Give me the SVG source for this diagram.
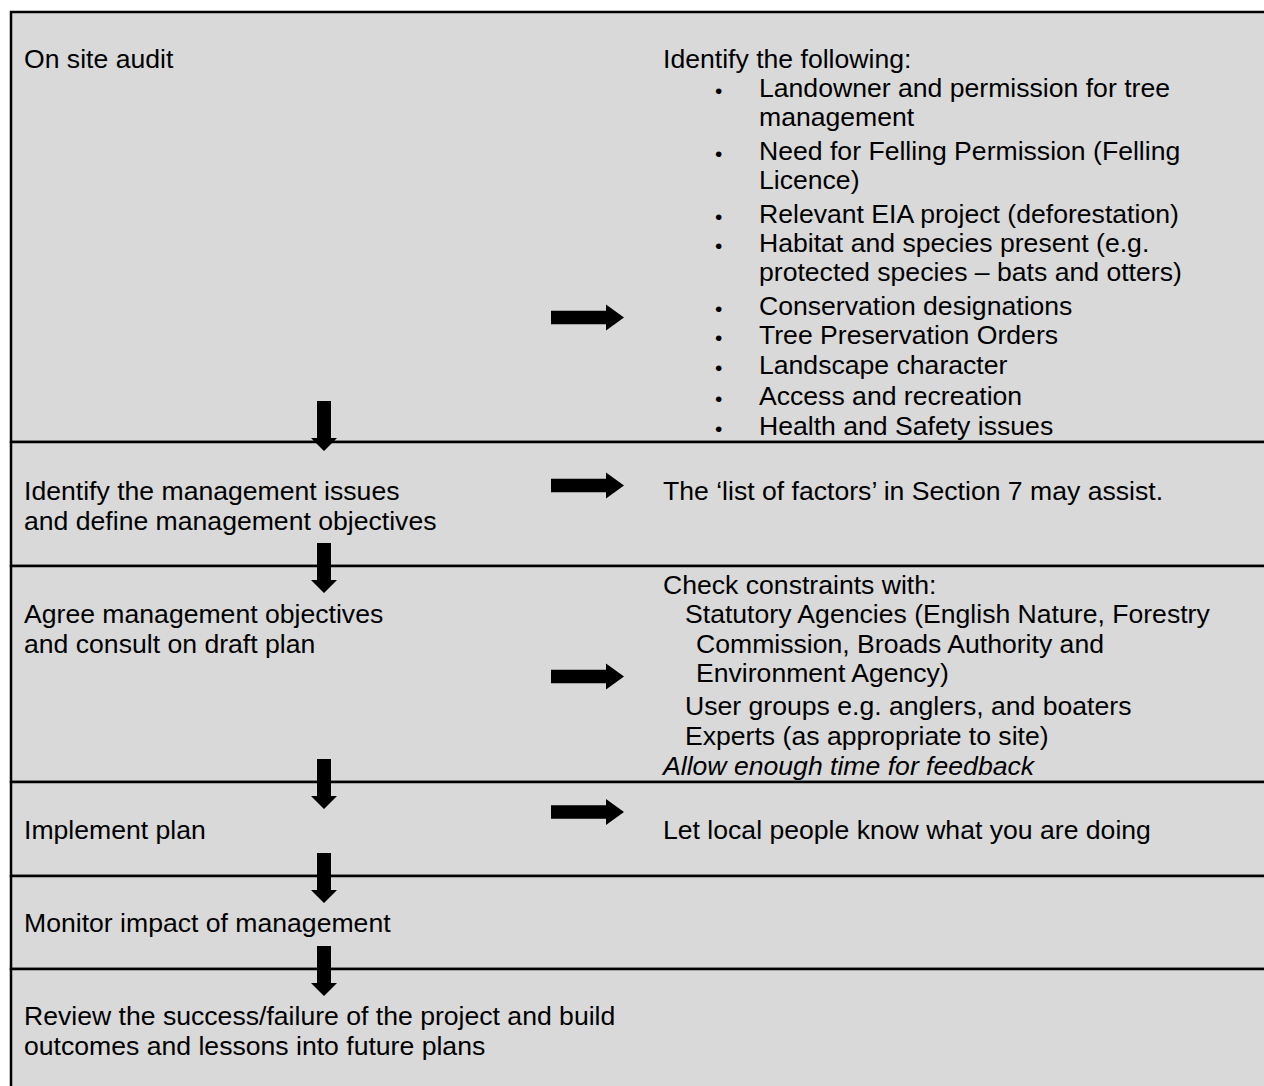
<svg xmlns="http://www.w3.org/2000/svg" xmlns:xlink="http://www.w3.org/1999/xlink" width="1264" height="1086" viewBox="0 0 1264 1086">
<style>
text{font-family:"Liberation Sans",Arial,sans-serif;font-size:26.6px;fill:#000}
.it{font-style:italic}
.bul{font-size:21px}
.row{fill:#d9d9d9;stroke:#000;stroke-width:2.5}
.arr{fill:#000}
</style>
<defs>
<path id="ra" d="M0,-6.75 H55 V-13 L73,0 L55,13 V6.75 H0 Z"/>
<path id="da" d="M-7,0 H7 V37 H13 L0,50 L-13,37 H-7 Z"/>
</defs>
<rect x="0" y="0" width="1264" height="1086" fill="#fff"/>
<g id="row1">
<rect class="row" x="11" y="12" width="1270" height="430"/>
<text x="24" y="68">On site audit</text>
<text x="663" y="68">Identify the following:</text>
<text class="bul" x="715" y="98">•</text><text x="759" y="97">Landowner and permission for tree</text>
<text x="759" y="126">management</text>
<text class="bul" x="715" y="161">•</text><text x="759" y="160">Need for Felling Permission (Felling</text>
<text x="759" y="189">Licence)</text>
<text class="bul" x="715" y="224">•</text><text x="759" y="223">Relevant EIA project (deforestation)</text>
<text class="bul" x="715" y="253">•</text><text x="759" y="252">Habitat and species present (e.g.</text>
<text x="759" y="281">protected species – bats and otters)</text>
<text class="bul" x="715" y="316">•</text><text x="759" y="315">Conservation designations</text>
<text class="bul" x="715" y="345">•</text><text x="759" y="344">Tree Preservation Orders</text>
<text class="bul" x="715" y="375">•</text><text x="759" y="374">Landscape character</text>
<text class="bul" x="715" y="406">•</text><text x="759" y="405">Access and recreation</text>
<text class="bul" x="715" y="436">•</text><text x="759" y="435">Health and Safety issues</text>
</g>
<g id="row2">
<rect class="row" x="11" y="442" width="1270" height="124"/>
<text x="24" y="500">Identify the management issues</text>
<text x="24" y="530">and define management objectives</text>
<text x="663" y="500">The ‘list of factors’ in Section 7 may assist.</text>
</g>
<g id="row3">
<rect class="row" x="11" y="566" width="1270" height="216"/>
<text x="24" y="623">Agree management objectives</text>
<text x="24" y="653">and consult on draft plan</text>
<text x="663" y="594">Check constraints with:</text>
<text x="685" y="623">Statutory Agencies (English Nature, Forestry</text>
<text x="696" y="653">Commission, Broads Authority and</text>
<text x="696" y="682">Environment Agency)</text>
<text x="685" y="715">User groups e.g. anglers, and boaters</text>
<text x="685" y="745">Experts (as appropriate to site)</text>
<text class="it" x="663" y="775">Allow enough time for feedback</text>
</g>
<g id="row4">
<rect class="row" x="11" y="782" width="1270" height="94"/>
<text x="24" y="839">Implement plan</text>
<text x="663" y="839">Let local people know what you are doing</text>
</g>
<g id="row5">
<rect class="row" x="11" y="876" width="1270" height="93"/>
<text x="24" y="932">Monitor impact of management</text>
</g>
<g id="row6">
<rect class="row" x="11" y="969" width="1270" height="140"/>
<text x="24" y="1025">Review the success/failure of the project and build</text>
<text x="24" y="1055">outcomes and lessons into future plans</text>
</g>
<g id="connectors" class="arr">
<use xlink:href="#ra" href="#ra" x="551" y="317.5"/>
<use xlink:href="#ra" href="#ra" x="551" y="485.5"/>
<use xlink:href="#ra" href="#ra" x="551" y="676.5"/>
<use xlink:href="#ra" href="#ra" x="551" y="812"/>
<use xlink:href="#da" href="#da" x="324" y="401"/>
<use xlink:href="#da" href="#da" x="324" y="543"/>
<use xlink:href="#da" href="#da" x="324" y="759"/>
<use xlink:href="#da" href="#da" x="324" y="853"/>
<use xlink:href="#da" href="#da" x="324" y="946"/>
</g>
</svg>
